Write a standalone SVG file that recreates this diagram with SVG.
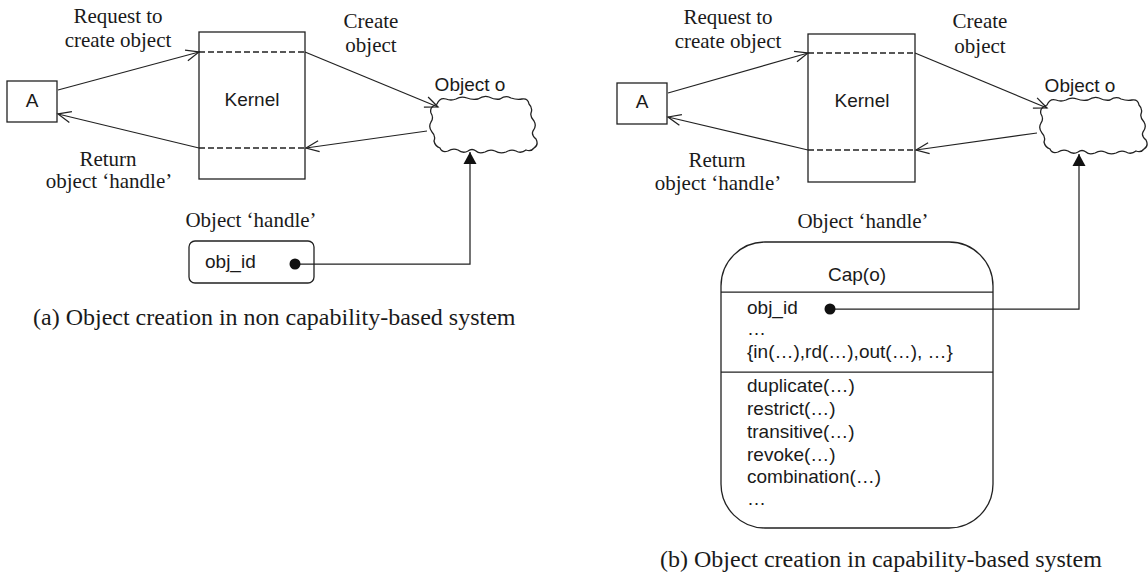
<svg xmlns="http://www.w3.org/2000/svg" width="1148" height="579" viewBox="0 0 1148 579">
<style>
.box{fill:#fff;stroke:#222;stroke-width:1.3}
.dash{stroke:#222;stroke-width:1.3;stroke-dasharray:6,3;fill:none}
.ln{stroke:#222;stroke-width:1.25;fill:none}
.open{marker-end:url(#open)}
.tri{marker-end:url(#tri)}
.sans{font-family:"Liberation Sans",Arial,sans-serif;font-size:19px;fill:#1a1a1a}
.serif{font-family:"Liberation Serif","Times New Roman",serif;font-size:21px;fill:#1a1a1a}
.cap{font-family:"Liberation Serif","Times New Roman",serif;font-size:24px;fill:#1a1a1a}
.mid{text-anchor:middle}
</style>
<defs>
<marker id="open" markerUnits="userSpaceOnUse" markerWidth="16" markerHeight="14" refX="14" refY="7" orient="auto" overflow="visible">
<path d="M1,1.5 L14,7 L1,12.5" fill="none" stroke="#222" stroke-width="1.25"/>
</marker>
<marker id="tri" markerUnits="userSpaceOnUse" markerWidth="14" markerHeight="14" refX="12" refY="6.5" orient="auto" overflow="visible">
<path d="M0,0 L12,6.5 L0,13 Z" fill="#111"/>
</marker>
<path id="cloud" d="M437,104 Q440,97 446,99 Q451,101 456,99 Q461,96 467,98 Q472,100 478,99 Q484,95 489,97 Q495,100 500,99 Q506,95 511,98 Q517,100 522,99 Q528,98 529,104 Q533,108 531,113 Q530,117 534,121 Q537,126 533,131 Q531,135 536,139 Q539,145 534,148 Q531,152 526,150 Q521,154 516,151 Q511,149 506,152 Q500,154 495,151 Q490,149 485,152 Q479,154 476,151 Q472,148 468,151 Q463,154 458,150 Q453,148 448,151 Q442,153 440,148 Q435,146 434,141 Q436,136 432,132 Q428,127 431,122 Q434,118 431,113 Q429,107 437,104 Z" fill="#fff" stroke="#222" stroke-width="1.3"/>
</defs>
<rect width="1148" height="579" fill="#fff"/>

<!-- Panel (a) -->
<g id="a-A"><rect class="box" x="7" y="81" width="50" height="41"/><text class="sans mid" x="32" y="107">A</text></g>
<g id="a-kernel"><rect class="box" x="199" y="32" width="106" height="147"/><line class="dash" x1="199" y1="52" x2="305" y2="52"/><line class="dash" x1="199" y1="148" x2="305" y2="148"/><text class="sans mid" x="252" y="106">Kernel</text></g>
<g id="a-object"><use href="#cloud"/><text class="sans mid" x="470" y="91">Object o</text></g>
<g id="a-handle"><text class="serif mid" x="251" y="227">Object ‘handle’</text><rect class="box" x="189" y="241" width="125" height="42" rx="6"/><text class="sans" x="205" y="268">obj_id</text></g>
<g id="a-labels">
<text class="serif mid" x="118" y="23">Request to</text><text class="serif mid" x="118" y="47">create object</text>
<text class="serif mid" x="108" y="166">Return</text><text class="serif mid" x="109" y="188">object ‘handle’</text>
<text class="serif mid" x="371" y="28">Create</text><text class="serif mid" x="371" y="52">object</text>
<text class="cap" x="33" y="325">(a) Object creation in non capability-based system</text>
</g>
<g id="a-connectors">
<path class="ln open" d="M58,90 L199,52"/>
<path class="ln open" d="M199,148 L58,114"/>
<path class="ln open" d="M305,52 L438,107"/>
<path class="ln open" d="M427,131 L306,148"/>
<path class="ln tri" d="M295,264 H470 V152"/>
<circle cx="295" cy="264" r="5.5" fill="#111"/>
</g>

<!-- Panel (b) -->
<g id="b-A"><rect class="box" x="617" y="83" width="50" height="41"/><text class="sans mid" x="642" y="108">A</text></g>
<g id="b-kernel"><rect class="box" x="808" y="34" width="107" height="148"/><line class="dash" x1="808" y1="53" x2="915" y2="53"/><line class="dash" x1="808" y1="150" x2="915" y2="150"/><text class="sans mid" x="862" y="107">Kernel</text></g>
<g id="b-object"><use href="#cloud" transform="translate(610,1)"/><text class="sans mid" x="1080" y="92">Object o</text></g>
<g id="b-cap">
<text class="serif mid" x="863" y="228">Object ‘handle’</text>
<rect class="box" x="721" y="242" width="272" height="286" rx="44"/>
<line class="ln" x1="721" y1="292" x2="993" y2="292"/>
<line class="ln" x1="721" y1="372" x2="993" y2="372"/>
<text class="sans mid" x="857" y="281">Cap(o)</text>
<text class="sans" x="747" y="314">obj_id</text>
<text class="sans" x="747" y="335">…</text>
<text class="sans" x="747" y="358">{in(…),rd(…),out(…), …}</text>
<text class="sans" x="747" y="392">duplicate(…)</text>
<text class="sans" x="747" y="415">restrict(…)</text>
<text class="sans" x="747" y="438">transitive(…)</text>
<text class="sans" x="747" y="461">revoke(…)</text>
<text class="sans" x="747" y="483">combination(…)</text>
<text class="sans" x="747" y="505">…</text>
</g>
<g id="b-labels">
<text class="serif mid" x="728" y="24">Request to</text><text class="serif mid" x="728" y="48">create object</text>
<text class="serif mid" x="717" y="167">Return</text><text class="serif mid" x="718" y="190">object ‘handle’</text>
<text class="serif mid" x="980" y="28">Create</text><text class="serif mid" x="980" y="53">object</text>
<text class="cap" x="660" y="567">(b) Object creation in capability-based system</text>
</g>
<g id="b-connectors">
<path class="ln open" d="M668,93 L808,53"/>
<path class="ln open" d="M808,150 L668,117"/>
<path class="ln open" d="M915,53 L1047,108"/>
<path class="ln open" d="M1037,133 L916,150"/>
<path class="ln tri" d="M830,309 H1079 V154"/>
<circle cx="830" cy="309" r="5.5" fill="#111"/>
</g>
</svg>
